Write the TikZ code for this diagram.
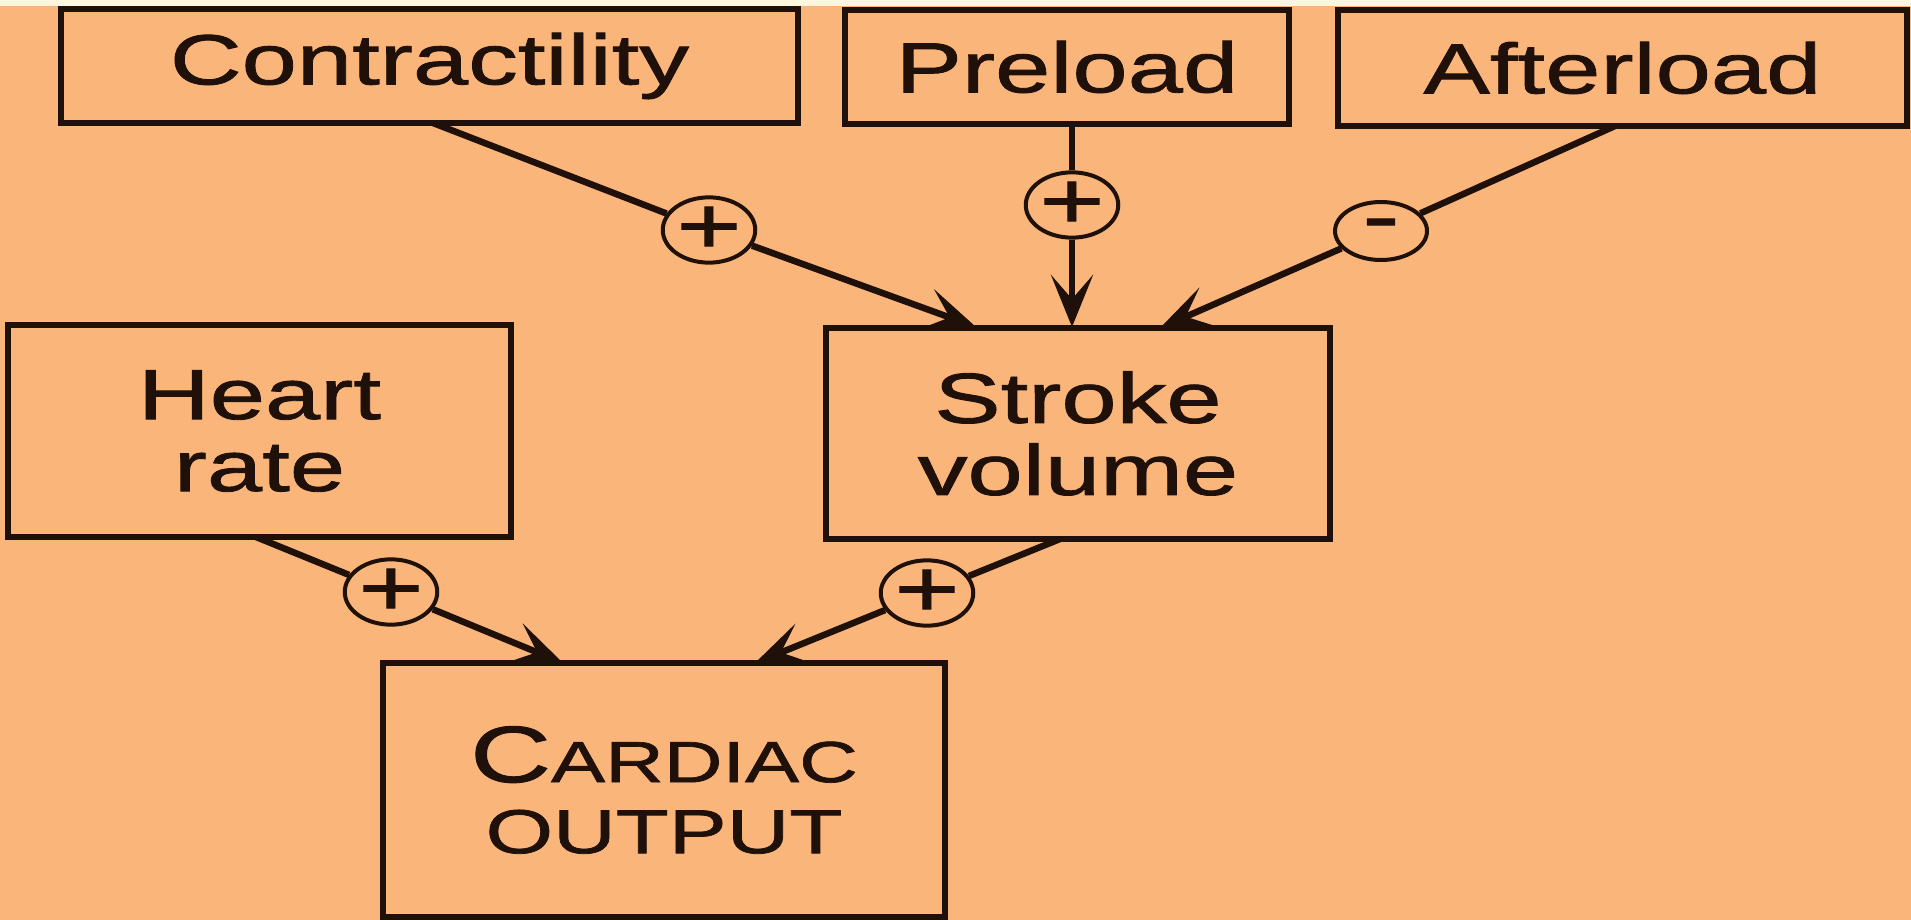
\documentclass[tikz,border=0pt]{standalone}
\usepackage{fontspec}
\setmainfont{Liberation Sans}[FakeStretch=1.4,FakeBold=1.2]
\usetikzlibrary{arrows.meta,shapes.geometric}
\definecolor{bg}{RGB}{249,181,122}
\definecolor{cream}{RGB}{255,246,222}
\definecolor{ink}{RGB}{32,16,10}
\begin{document}
\begin{tikzpicture}[x=1pt,y=-1pt,
  box/.style={draw=ink, line width=6pt, inner sep=0pt, align=center, text=ink,
    font=\fontsize{71}{72}\selectfont},
  sign/.style={draw=ink, ellipse, line width=4pt, minimum width=92pt, minimum height=58pt,
    inner sep=0pt, text=ink, font=\fontsize{80}{80}\selectfont},
  conn/.style={draw=ink, line width=6.5pt},
  arr/.style={conn, -{Stealth[length=52pt,width=42pt,inset=24pt]}}
]
\fill[bg] (0,0) rectangle (1911,920);
\fill[cream] (0,0) rectangle (1911,6);
\useasboundingbox (0,0) rectangle (1911,920);

% boxes
\node[box, minimum width=737pt, minimum height=114pt] (contr) at (429.5,66) {Contractility};
\node[box, minimum width=444pt, minimum height=114pt] (pre) at (1067,67) {Preload};
\node[box, minimum width=569pt, minimum height=116pt] (after) at (1622.5,68) {Afterload};
\node[box, minimum width=503pt, minimum height=212pt] (hr) at (259.5,431) {Heart\\rate};
\node[box, minimum width=504pt, minimum height=211pt] (sv) at (1078,433.5) {Stroke\\volume};
\node[box, minimum width=562pt, minimum height=254pt, font=\fontsize{62}{71}\selectfont] (co) at (664,790)
  {{\fontsize{80}{71}\selectfont C}{\fontsize{58}{71}\selectfont ARDIAC}\\OUTPUT};

% sign ellipses
\node[sign] (e1) at (709,230) {+};
\node[sign] (e2) at (1072,205) {+};
\node[sign] (e3) at (1381,231) {-};
\node[sign] (e4) at (391,592) {+};
\node[sign] (e5) at (927,593) {+};

% connector end points on box edges
\coordinate (s1) at (433,123);
\coordinate (t1) at (976,327);
\coordinate (s2) at (1072,124);
\coordinate (t2) at (1072,327);
\coordinate (s3) at (1615,126);
\coordinate (t3) at (1160,328);
\coordinate (s4) at (256,537);
\coordinate (t4) at (563,663);
\coordinate (s5) at (1060,539);
\coordinate (t5) at (755,663);

% connectors
\draw[conn] (s1) -- (e1);
\draw[arr] (e1) -- (t1);
\draw[conn] (s2) -- (e2);
\draw[arr] (e2) -- (t2);
\draw[conn] (s3) -- (e3);
\draw[arr] (e3) -- (t3);
\draw[conn] (s4) -- (e4);
\draw[arr] (e4) -- (t4);
\draw[conn] (s5) -- (e5);
\draw[arr] (e5) -- (t5);
\end{tikzpicture}
\end{document}
